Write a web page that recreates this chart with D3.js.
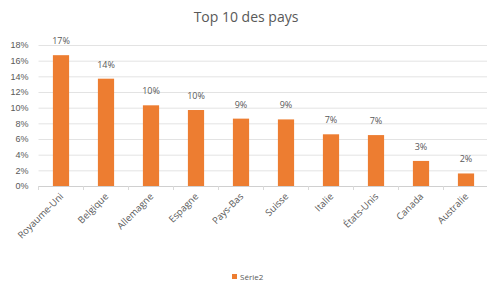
<!DOCTYPE html>
<html lang="fr">
<head>
  <meta charset="UTF-8">
  <title>Top 10 des pays</title>
  <style>
    body { margin: 0; background: #fff; }
    svg { display: block; font-family: "Open Sans", "Noto Sans", sans-serif; }
  </style>
  <script src="https://d3js.org/d3.v7.min.js"></script>
</head>
<body>
  <svg id="chart" width="487" height="287"></svg>
  <script>
    // chart data
    const countries = ['Royaume-Uni', 'Belgique', 'Allemagne', 'Espagne', 'Pays-Bas',
      'Suisse', 'Italie', 'États-Unis', 'Canada', 'Australie'];
    const values = [0.167, 0.137, 0.103, 0.097, 0.086, 0.085, 0.066, 0.065, 0.032, 0.016];
    const yTicks = [0, 0.02, 0.04, 0.06, 0.08, 0.10, 0.12, 0.14, 0.16, 0.18];
    const seriesName = 'Série2';
    const title = 'Top 10 des pays';

    const svg = d3.select('#chart');
    const orange = '#ED7D31';
    const textGrey = '#595959';

    const x = d3.scaleBand()
      .domain(countries)
      .range([38.5, 488.5])
      .paddingInner(0.64)
      .paddingOuter(0.32);

    const y = d3.scaleLinear()
      .domain([0, 0.18])
      .range([186, 45]);

    // title
    svg.append('text')
      .attr('x', 246)
      .attr('y', 22)
      .attr('text-anchor', 'middle')
      .attr('font-size', '14px')
      .attr('fill', textGrey)
      .text(title);

    // gridlines + y labels
    const yAxis = svg.append('g')
      .attr('transform', 'translate(38.5,0)')
      .call(d3.axisLeft(y).tickValues(yTicks).tickFormat(d3.format('.0%'))
        .tickSize(-450).tickPadding(10));
    yAxis.select('.domain').remove();
    yAxis.selectAll('.tick line').attr('stroke', '#e3e3e3');
    yAxis.selectAll('.tick text')
      .attr('fill', textGrey)
      .attr('font-size', '9px');
    yAxis.selectAll('.tick').filter(d => d === 0).select('line').attr('stroke', '#d0d0d0');

    // x tick marks between categories
    svg.append('g')
      .selectAll('line')
      .data(d3.range(countries.length + 1))
      .join('line')
      .attr('x1', i => 38.5 + i * x.step())
      .attr('x2', i => 38.5 + i * x.step())
      .attr('y1', 186)
      .attr('y2', 190)
      .attr('stroke', '#d9d9d9');

    // bars
    svg.append('g')
      .selectAll('rect')
      .data(values)
      .join('rect')
      .attr('x', (d, i) => x(countries[i]))
      .attr('y', d => y(d))
      .attr('width', x.bandwidth())
      .attr('height', d => y(0) - y(d))
      .attr('fill', orange);

    // value labels
    svg.append('g')
      .selectAll('text')
      .data(values)
      .join('text')
      .attr('x', (d, i) => x(countries[i]) + x.bandwidth() / 2)
      .attr('y', d => y(d) - 11)
      .attr('text-anchor', 'middle')
      .attr('font-size', '9px')
      .attr('fill', textGrey)
      .text(d => Math.round(d * 100) + '%');

    // category labels
    svg.append('g')
      .selectAll('text')
      .data(countries)
      .join('text')
      .attr('transform', d => `translate(${x(d) + x.bandwidth() / 2 + 3},${197}) rotate(-45)`)
      .attr('text-anchor', 'end')
      .attr('font-size', '9.5px')
      .attr('fill', textGrey)
      .text(d => d);

    // legend
    const legend = svg.append('g').attr('transform', 'translate(232,277)');
    legend.append('rect')
      .attr('x', 0).attr('y', -3)
      .attr('width', 5).attr('height', 5)
      .attr('fill', orange);
    legend.append('text')
      .attr('x', 8).attr('y', 2.5)
      .attr('font-size', '8px')
      .attr('fill', textGrey)
      .text(seriesName);
  </script>
</body>
</html>
